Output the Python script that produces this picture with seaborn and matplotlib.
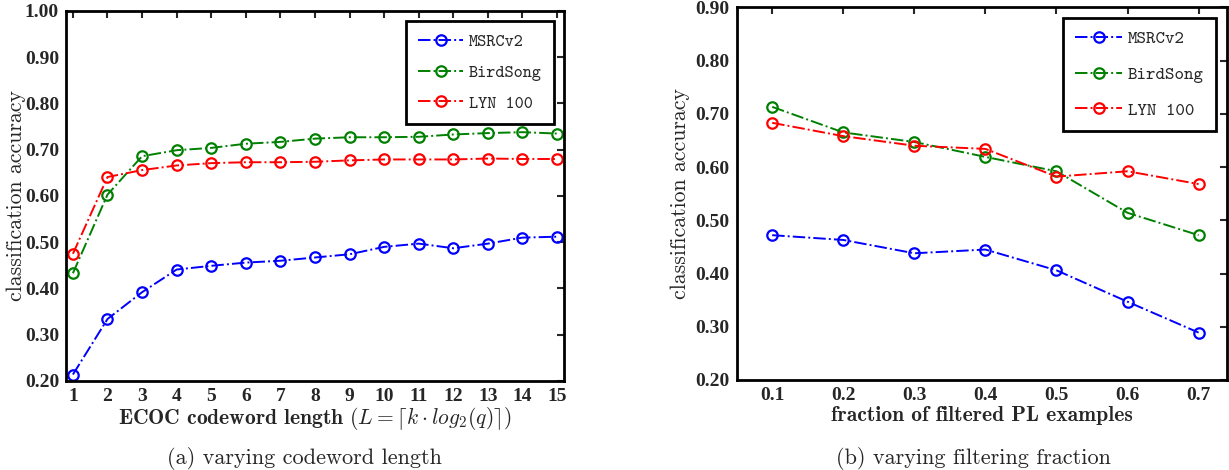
import matplotlib
matplotlib.use("Agg")
import matplotlib.pyplot as plt
import seaborn as sns
import pandas as pd
from matplotlib.ticker import FormatStrFormatter, FixedLocator

sns.set_style("white")
plt.rcParams["mathtext.fontset"] = "cm"
plt.rcParams["font.family"] = ["Liberation Serif", "DejaVu Serif"]

# ---- data ----
series_names = ["MSRCv2", "BirdSong", "LYN 100"]
series_colors = ["#0000FF", "#008000", "#FF0000"]

code_length = list(range(1, 16))
msrc_len = [0.214, 0.334, 0.392, 0.441, 0.449, 0.456, 0.460, 0.467, 0.474, 0.490,
            0.497, 0.487, 0.497, 0.510, 0.512]
bird_len = [0.433, 0.603, 0.686, 0.699, 0.704, 0.713, 0.717, 0.724, 0.727, 0.727,
            0.728, 0.733, 0.736, 0.738, 0.735]
lyn_len = [0.475, 0.641, 0.656, 0.666, 0.671, 0.673, 0.673, 0.674, 0.677, 0.679,
           0.679, 0.679, 0.681, 0.680, 0.680]

filter_frac = [0.1, 0.2, 0.3, 0.4, 0.5, 0.6, 0.7]
msrc_frac = [0.472, 0.463, 0.438, 0.445, 0.406, 0.347, 0.289]
bird_frac = [0.713, 0.665, 0.647, 0.619, 0.592, 0.514, 0.472]
lyn_frac = [0.683, 0.658, 0.640, 0.634, 0.582, 0.592, 0.568]

yticks_a = [0.2, 0.3, 0.4, 0.5, 0.6, 0.7, 0.8, 0.9, 1.0]
yticks_b = [0.2, 0.3, 0.4, 0.5, 0.6, 0.7, 0.8, 0.9]


def long_table(x, cols):
    frames = []
    for name, vals in zip(series_names, cols):
        frames.append(pd.DataFrame({"x": x, "acc": vals, "dataset": name}))
    return pd.concat(frames, ignore_index=True)


df_a = long_table(code_length, [msrc_len, bird_len, lyn_len])
df_b = long_table(filter_frac, [msrc_frac, bird_frac, lyn_frac])

fig = plt.figure(figsize=(12.29, 4.70), dpi=100)
ax_a = fig.add_axes([0.0537, 0.1894, 0.4052, 0.7872])
ax_b = fig.add_axes([0.5994, 0.1915, 0.3990, 0.7930])


def draw(ax, df, legend_size, row_gap):
    for name, col in zip(series_names, series_colors):
        sub = df[df["dataset"] == name]
        sns.lineplot(data=sub, x="x", y="acc", ax=ax, color=col, label=name,
                     linestyle="-.", linewidth=1.4, marker="o", markersize=7.5,
                     markerfacecolor="none", markeredgecolor=col,
                     markeredgewidth=1.6)
    for s in ax.spines.values():
        s.set_visible(True)
        s.set_color("black")
        s.set_linewidth(2.0)
    ax.tick_params(direction="in", top=True, right=True, length=5, width=1.5,
                   labelsize=14, pad=5)
    ax.yaxis.set_major_formatter(FormatStrFormatter("%.2f"))
    leg = ax.legend(loc="upper right", prop={"family": "cmtt10", "size": legend_size},
                    frameon=True, fancybox=False, framealpha=1, edgecolor="black",
                    borderpad=0.7, labelspacing=row_gap, handlelength=2.6,
                    handletextpad=0.3, borderaxespad=0.6)
    leg.get_frame().set_linewidth(2.0)


draw(ax_a, df_a, 12.5, 0.85)
ax_a.set_xlim(0.8, 15.2)
ax_a.set_ylim(0.2, 1.0)
ax_a.xaxis.set_major_locator(FixedLocator(code_length))
ax_a.yaxis.set_major_locator(FixedLocator(yticks_a))
for lbl in ax_a.get_xticklabels() + ax_a.get_yticklabels():
    lbl.set_fontweight("bold")
ax_a.set_ylabel("classification accuracy", fontsize=15.7, family="cmr10")
ax_a.yaxis.set_label_coords(-0.080, 0.5)
ax_a.set_xlabel(r"ECOC codeword length $(L = \lceil k \cdot log_2(q) \rceil)$",
                fontsize=15.5, family="cmb10", va="top")
ax_a.xaxis.set_label_coords(0.5, -0.066)

draw(ax_b, df_b, 13, 1.05)
ax_b.set_xlim(0.05, 0.74)
ax_b.set_ylim(0.2, 0.9)
ax_b.xaxis.set_major_locator(FixedLocator(filter_frac))
ax_b.yaxis.set_major_locator(FixedLocator(yticks_b))
ax_b.xaxis.set_major_formatter(FormatStrFormatter("%.1f"))
for lbl in ax_b.get_xticklabels() + ax_b.get_yticklabels():
    lbl.set_fontweight("bold")
ax_b.set_ylabel("classification accuracy", fontsize=15.7, family="cmr10")
ax_b.yaxis.set_label_coords(-0.095, 0.5)
ax_b.set_xlabel("fraction of filtered PL examples", fontsize=15.5,
                family="cmb10", va="top")
ax_b.xaxis.set_label_coords(0.5, -0.071)

fig.text(304 / 1229, 1 - 458 / 470, "(a) varying codeword length", ha="center",
         va="center", fontsize=16, family="cmr10")
fig.text(973 / 1229, 1 - 458 / 470, "(b) varying filtering fraction", ha="center",
         va="center", fontsize=16, family="cmr10")

fig.savefig("out.png", dpi=100)
